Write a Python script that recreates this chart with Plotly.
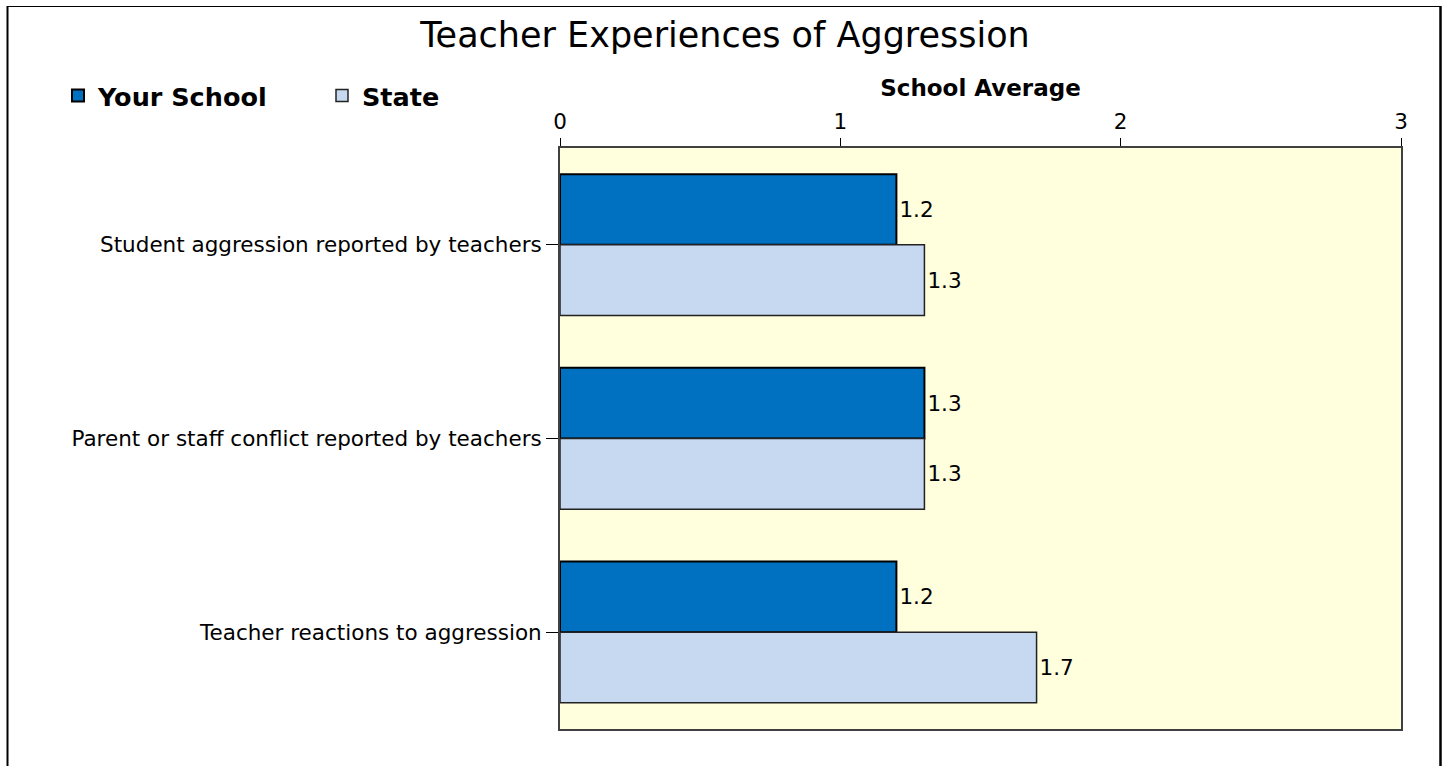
import plotly.graph_objects as go

categories = ["Student aggression reported by teachers",
              "Parent or staff conflict reported by teachers",
              "Teacher reactions to aggression"]
your_school = [1.2, 1.3, 1.2]
state = [1.3, 1.3, 1.7]
x_ticks = [0, 1, 2, 3]

W, H = 1443, 766
L, R, T, B = 560, 42, 148, 37
pw, ph = W - L - R, H - T - B

def px_x(px):
    return (px - L) / pw

def px_y(py):
    return (H - B - py) / ph

FONT = "DejaVu Sans"
LBL = 21.5

fig = go.Figure()
fig.add_trace(go.Bar(
    y=categories, x=your_school, name="Your School", orientation="h",
    marker=dict(color="#0070C0", line=dict(color="#000000", width=2)),
    text=[f"{v:.1f}" for v in your_school], textposition="outside",
    textfont=dict(family=FONT, size=LBL, color="#000000"), cliponaxis=False,
))
fig.add_trace(go.Bar(
    y=categories, x=state, name="State", orientation="h",
    marker=dict(color="#C6D9F1", line=dict(color="#222222", width=1.5)),
    text=[f"{v:.1f}" for v in state], textposition="outside",
    textfont=dict(family=FONT, size=LBL, color="#000000"), cliponaxis=False,
))

fig.update_layout(
    width=W, height=H,
    margin=dict(l=L, r=R, t=T, b=B, autoexpand=False),
    paper_bgcolor="white", plot_bgcolor="#FFFFDE",
    barmode="group", bargap=0.27, bargroupgap=0,
    font=dict(family=FONT, size=LBL, color="#000000"),
    title=dict(text="Teacher Experiences of Aggression", x=px_x(725), xref="paper",
               xanchor="center", y=1 - 35 / H, yanchor="middle",
               font=dict(family=FONT, size=35, color="#000000")),
    showlegend=True,
    legend=dict(orientation="h", x=px_x(58), y=px_y(96), xanchor="left", yanchor="middle",
                font=dict(family=FONT, size=25.5, color="#000000", weight="bold"),
                entrywidth=219, entrywidthmode="pixels", bgcolor="rgba(0,0,0,0)",
                traceorder="normal"),
    xaxis=dict(side="top", range=[0, 3], tickvals=x_ticks, ticks="outside", ticklen=8,
               tickcolor="#000000", showgrid=False, zeroline=False,
               showline=True, linecolor="#404040", linewidth=2, mirror=True,
               tickfont=dict(family=FONT, size=LBL),
               title=dict(text="School Average", standoff=6,
                          font=dict(family=FONT, size=23, weight="bold"))),
    yaxis=dict(autorange="reversed", ticks="outside", ticklen=12, tickcolor="#000000",
               showgrid=False, showline=True, linecolor="#404040", linewidth=2, mirror=True,
               tickfont=dict(family=FONT, size=LBL)),
    shapes=[
        dict(type="line", xref="paper", yref="paper", x0=px_x(7.5), x1=px_x(7.5),
             y0=px_y(6), y1=px_y(770), line=dict(color="black", width=2)),
        dict(type="line", xref="paper", yref="paper", x0=px_x(7), x1=px_x(1441),
             y0=px_y(6.5), y1=px_y(6.5), line=dict(color="black", width=1)),
        dict(type="line", xref="paper", yref="paper", x0=px_x(1440.5), x1=px_x(1440.5),
             y0=px_y(6), y1=px_y(770), line=dict(color="black", width=2.5)),
    ],
)

fig.write_html("out.html", config={"displayModeBar": False},
               post_script="document.body.style.margin='0';document.body.style.overflow='hidden';")
